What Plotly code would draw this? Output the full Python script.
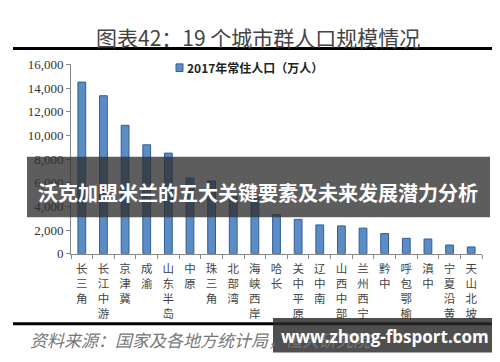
import plotly.graph_objects as go

W, H = 500, 362

categories = ["长三角", "长江中游", "京津冀", "成渝", "山东半岛", "中原", "珠三角", "北部湾",
              "海峡西岸", "哈长", "关中平原", "辽中南", "山西中部", "兰州西宁", "黔中",
              "呼包鄂榆", "滇中", "宁夏沿黄", "天山北坡"]
population_2017 = [14500, 13350, 10850, 9200, 8500, 6400, 6150, 4950,
                   4750, 3300, 2900, 2430, 2350, 2160, 1700, 1300, 1240, 730, 570]
y_ticks = [0, 2000, 4000, 6000, 8000, 10000, 12000, 14000, 16000]
series_name = "2017年常住人口（万人）"
title_text = "图表42：19 个城市群人口规模情况"
banner_text = "沃克加盟米兰的五大关键要素及未来发展潜力分析"
source_text = "资料来源：国家及各地方统计局，恒大研究院"
watermark_text = "www.zhong-fbsport.com"


def px(x):
    return x / W


def py(y):
    return 1 - y / H


fig = go.Figure()
fig.add_trace(go.Bar(
    x=categories, y=population_2017, name=series_name,
    marker=dict(color="#5B8CC6", line=dict(color="#2F5E92", width=1)),
    width=0.36, showlegend=False,
))

fig.update_layout(
    width=W, height=H,
    margin=dict(l=0, r=0, t=0, b=0),
    paper_bgcolor="white", plot_bgcolor="white",
    xaxis=dict(
        domain=[px(63), px(474)],
        tickmode="array", tickvals=categories,
        ticktext=["<br>".join(list(c)) for c in categories],
        tickangle=0, tickson="boundaries", ticks="outside", ticklen=4,
        tickcolor="#888", showline=True, linecolor="#888", linewidth=1,
        ticklabelstandoff=5,
        tickfont=dict(family="Noto Sans CJK SC", size=11.5, color="#444"),
        showgrid=False, zeroline=False,
    ),
    yaxis=dict(
        domain=[py(249), py(51.5)],
        range=[0, 16000], tickvals=y_ticks, tickformat=",",
        ticks="outside", ticklen=4, tickcolor="#888",
        showline=True, linecolor="#888", linewidth=1,
        tickfont=dict(family="Liberation Serif", size=13, color="#333"),
        showgrid=False, zeroline=False,
    ),
)

shapes = [
    dict(type="line", xref="paper", yref="paper", x0=px(5), x1=px(495), y0=py(35), y1=py(35),
         line=dict(color="black", width=3)),
    dict(type="line", xref="paper", yref="paper", x0=px(5), x1=px(495), y0=py(322), y1=py(322),
         line=dict(color="black", width=3)),
    dict(type="rect", xref="paper", yref="paper", x0=px(168), x1=px(175), y0=py(59), y1=py(51),
         fillcolor="#5B8CC6", line=dict(color="#2F5E92", width=1)),
    dict(type="rect", xref="paper", yref="paper", x0=px(19), x1=px(482), y0=py(211), y1=py(148),
         fillcolor="rgba(48,48,48,0.78)", line=dict(width=0), layer="above"),
    dict(type="rect", xref="paper", yref="paper", x0=px(265), x1=px(490), y0=py(352), y1=py(316),
         fillcolor="rgba(40,40,40,0.82)", line=dict(width=0), layer="above"),
]

annotations = [
    dict(text=title_text, xref="paper", yref="paper", x=px(250), y=py(23),
         xanchor="center", yanchor="middle", showarrow=False,
         font=dict(family="Noto Sans CJK SC", size=21, color="#444")),
    dict(text="<b>" + series_name + "</b>", xref="paper", yref="paper", x=px(177), y=py(55),
         xanchor="left", yanchor="middle", showarrow=False,
         font=dict(family="Noto Sans CJK SC", size=12, color="#222")),
    dict(text="<i>" + source_text + "</i>", xref="paper", yref="paper", x=px(20), y=py(339),
         xanchor="left", yanchor="middle", showarrow=False,
         font=dict(family="Noto Sans CJK SC", size=17, color="#777")),
    dict(text="<b>" + banner_text + "</b>", xref="paper", yref="paper", x=px(250), y=py(185),
         xanchor="center", yanchor="middle", showarrow=False,
         font=dict(family="Noto Sans CJK SC", size=20, color="white")),
    dict(text="<b>" + watermark_text + "</b>", xref="paper", yref="paper", x=px(377), y=py(335),
         xanchor="center", yanchor="middle", showarrow=False,
         font=dict(family="Open Sans", size=17, color="white")),
]

fig.update_layout(shapes=shapes, annotations=annotations)
fig.write_html("out.html")
